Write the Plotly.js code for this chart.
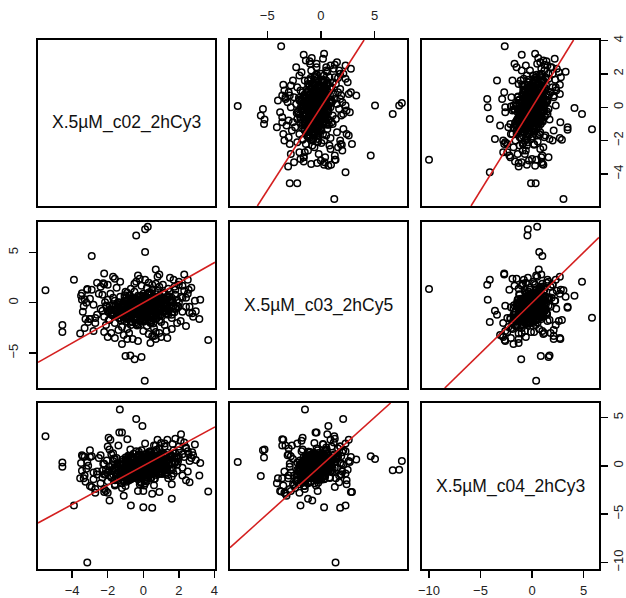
<!DOCTYPE html>
<html>
<head>
<meta charset="utf-8">
<script src="https://cdn.plot.ly/plotly-3.0.1.min.js"></script>
<style>html,body{margin:0;padding:0;background:#fff}#chart{width:626px;height:598px}</style>
</head>
<body>
<div id="chart"></div>
<script>
// variable names (diagonal labels)
const varNames = ['X.5µM_c02_2hCy3', 'X.5µM_c03_2hCy5', 'X.5µM_c04_2hCy3'];
// tick labels per variable
const tickVals = [[-4, -2, 0, 2, 4], [-5, 0, 5], [-10, -5, 0, 5]];

// dense core of the point cloud (estimated)
const coreV1 = [
 -0.2,0.3,-0.6,0.1,-0.4,0.5,-0.9,0.0,0.7,-0.3,
 -1.1,0.2,-0.5,0.9,-0.1,0.4,-0.8,1.1,-0.2,0.6,
 -1.3,0.0,-0.7,0.8,-0.4,0.3,-1.0,0.5,-0.6,1.2,
 -0.1,0.4,-1.5,0.2,-0.9,0.9,-0.3,0.6,-1.2,0.1,
 -0.5,1.0,-0.8,0.3,-1.4,0.7,-0.2,1.3,-0.6,0.0,
 -1.8,1.5,-2.0,0.8,-1.6,1.4,-0.4,0.5,-2.2,1.7,
 -1.0,0.2,-2.4,1.0,-0.7,1.8,-1.7,0.4,-2.6,1.2,
 -1.2,0.9,-2.1,1.6,-0.1,-0.9,2.0,-2.3,0.6,-1.5,
 2.2,-2.8,0.0,1.1,-1.9,0.3,-3.0,1.9,-0.5,2.4,
 -2.5,0.7,-1.3,1.4,-2.7,2.6,-0.8,0.1,-3.2,1.6,
 -1.6,2.3,-3.3,0.5,-2.0,2.8,-0.3,1.0,-3.5,2.0,
 -2.9,1.3,-1.1,2.5,-2.2,0.8,-3.4,2.9,-0.6,1.5,
 -0.3,0.2,-0.7,0.5,-0.1,0.8,-1.0,0.3,-0.5,0.0,
 -1.2,0.6,-0.2,1.0,-0.8,0.1,-0.4,0.7,-1.4,0.4,
 -0.6,1.2,-0.9,0.2,-0.1,0.9,-1.7,0.5,-0.3,1.4,
 -1.1,0.0,-0.6,0.8,-1.3,0.3,-0.2,1.1,-0.8,0.6,
 -1.9,1.6,-0.5,0.1,-1.5,1.3,-0.9,0.4,-2.0,1.8,
 -0.4,0.9,-1.6,1.5,-0.7,0.2,-2.3,1.9,-1.0,0.7,
 -0.2,0.4,-0.6,0.1,-0.9,0.6,-0.3,0.3,-1.1,0.9,
 -0.5,0.0,-0.8,0.7,-0.1,1.0,-1.3,0.2,-0.4,0.5,
 -2.4,2.1,-3.1,2.7,-1.8,1.7,-2.6,2.4,-1.4,0.9,
 -3.0,2.2,-2.1,1.2,-0.2,2.6,-1.7,0.3,-2.8,1.8,
 0.15,-0.35,0.65,-0.85,1.05,-1.25,0.35,-0.15,-0.55,0.85,
 -1.45,1.35,-0.05,0.45,-0.75,1.55,-1.65,0.25,-0.95,1.15,
 0.55,-0.25,-1.05,0.95,-0.65,0.05,1.45,-1.85,0.75,-0.45,
 -0.05,0.35,-1.35,1.25,-0.35,0.65,-0.85,1.75,-1.15,0.15,
 -0.65,0.45,-1.55,0.95,-0.15,1.35,-2.05,0.15,-0.95,0.65,
 0.05,-0.45,1.05,-1.15,0.55,-0.75,1.65,-0.25,0.35,-1.75,
 -0.25,0.85,-0.55,0.25,-1.25,1.15,-0.05,0.45,-0.85,1.95,
 -1.95,0.75,-0.35,1.45,-0.65,0.05,-1.45,1.05,-0.15,0.55,
 0.35,-0.95,0.95,-0.35,1.25,-1.35,0.15,-0.65,0.65,-0.05,
 -2.15,1.85,-0.75,0.25,-1.05,0.95,-0.45,1.35,-1.65,0.45,
 0.95,-0.15,-1.25,0.45,-0.55,1.65,-0.85,0.05,-1.45,0.75,
 -0.35,0.55,-0.95,1.05,-0.15,0.25,-1.75,1.55,-0.65,0.15,
 1.25,-0.45,0.35,-1.05,0.75,-0.25,1.95,-1.35,0.05,-0.75,
 -0.15,0.65,-0.75,0.35,-1.15,0.85,-0.45,1.25,-0.25,0.45,
 -0.95,1.45,-0.35,0.05,-1.55,0.55,-0.05,1.05,-0.75,0.25,
 0.65,-1.25,0.15,-0.55,1.35,-0.05,0.95,-1.05,0.45,-0.35
];
const coreV2 = [
 -0.4,-0.1,-0.8,-0.6,0.1,-0.3,-0.5,0.2,0.1,-1.0,
 -0.9,-0.7,-0.2,0.3,-1.3,0.5,-0.1,-0.2,0.6,-0.9,
 -0.6,-0.3,-1.2,-0.5,-0.7,0.8,0.2,-1.1,0.4,0.4,
 -0.1,-1.4,-1.1,0.0,-1.5,-0.8,0.3,0.2,-0.3,-1.7,
 -1.6,0.6,0.7,-0.2,-0.4,-1.3,-0.8,-0.6,-0.4,0.9,
 -1.0,0.2,0.3,1.2,-2.0,-1.2,-2.1,1.3,-1.4,-0.3,
 1.1,-2.3,-0.6,-1.9,1.4,0.8,0.5,-1.8,-1.2,1.0,
 -2.4,1.6,-2.2,-1.5,1.7,-2.6,0.0,0.8,-2.5,1.5,
 -0.9,-0.2,-2.8,1.8,-1.7,2.0,-1.6,-2.0,1.9,0.5,
 0.9,-2.9,2.1,1.4,-2.0,-0.4,-3.0,2.3,0.0,-2.6,
 2.4,1.2,-2.5,-3.3,1.8,-1.4,2.7,-3.4,0.7,2.1,
 1.3,-2.8,-3.2,0.9,-2.9,2.6,-0.9,0.2,-3.6,2.5,
 -0.5,-0.2,-0.3,-0.6,0.3,0.0,-0.8,-0.9,0.0,-1.1,
 -1.2,0.4,-0.6,-0.4,-0.9,0.5,-1.4,-0.7,0.0,0.1,
 -1.0,0.0,0.3,-1.5,-0.2,0.7,-0.7,-0.1,0.7,-0.8,
 -1.7,0.4,-1.9,-1.0,0.6,1.0,-1.8,0.9,-0.2,-1.6,
 -0.3,0.5,1.1,-1.2,-1.3,-1.1,1.0,-2.0,-0.9,-0.6,
 0.4,-1.7,0.2,1.1,-2.2,1.5,-0.8,0.3,-1.5,1.9,
 -0.9,-0.4,-0.6,0.1,-0.3,-0.2,-1.2,0.3,-0.5,-0.6,
 0.2,-0.7,-1.1,0.5,-0.4,0.2,-0.8,-1.0,-0.1,-1.2,
 1.6,-1.8,-1.9,1.5,-3.0,2.3,2.0,-2.3,-2.7,-3.0,
 0.4,1.7,-0.3,-2.2,2.4,-1.0,2.6,-3.1,-2.8,1.3,
 -0.35,0.05,-0.45,-0.65,0.15,-1.05,-1.25,-0.75,-0.15,0.35,
 -0.55,-0.25,-0.95,0.45,-1.45,0.05,-1.05,-1.65,0.55,-0.85,
 -1.35,0.25,-0.15,-0.05,-0.45,-1.85,0.65,-0.65,0.85,-0.75,
 -0.85,-1.15,0.05,0.25,-1.65,-0.55,0.35,-0.95,-1.35,0.65,
 0.45,-0.35,-0.85,-1.25,-0.25,-0.65,-0.35,-1.45,-1.85,0.15,
 -0.55,-1.55,0.35,-0.15,-2.05,0.75,0.05,-1.05,1.05,-1.15,
 -0.25,-0.95,-0.65,0.95,-0.95,0.45,-1.75,-0.15,-1.45,-0.45,
 -0.75,0.55,-1.15,-0.75,0.15,-0.45,-0.15,-1.35,0.25,-0.25,
 -1.75,-0.05,-0.35,-2.25,-0.85,-1.55,0.55,-1.25,-0.05,-0.65,
 0.05,-0.55,-1.35,-0.35,0.75,0.25,-0.85,0.65,-0.25,-1.95,
 -0.15,-1.15,-1.75,0.15,-0.05,-0.95,-1.05,0.45,-0.65,-1.55,
 -0.45,-0.85,0.15,-0.45,-1.55,0.85,-1.25,0.35,-0.95,-0.25,
 -1.05,-1.35,-0.75,-0.25,0.35,-2.15,-0.35,-0.95,-0.45,0.05,
 0.65,-0.05,-0.55,-1.05,-0.75,-1.25,-1.95,-0.15,-1.15,0.95,
 -1.45,-0.35,-0.25,-0.85,-0.25,-1.45,0.25,0.15,-0.55,-0.75,
 -0.45,-0.95,-1.65,0.35,-0.55,-0.35,-1.25,0.55,-0.15,-1.05
];
const coreV3 = [
 -0.3,0.2,-0.7,0.1,-0.5,0.4,-0.6,-0.1,0.6,-0.2,
 -1.0,-0.4,0.3,0.5,-0.8,0.1,-0.9,0.8,0.0,-0.1,
 -0.4,-0.6,-1.3,0.9,0.5,0.3,-0.2,-0.5,-1.1,0.2,
 0.7,-0.9,-0.8,1.0,-0.3,-0.3,-1.4,1.1,0.4,-1.2,
 -0.1,1.3,-0.5,-1.0,-1.5,0.3,1.2,0.0,0.8,0.5,
 -1.2,1.0,-0.7,0.7,-1.9,0.6,-0.6,-0.2,0.2,1.6,
 0.6,-1.6,-1.8,-0.8,0.9,0.4,1.3,1.5,-0.9,2.0,
 -2.3,1.8,-0.4,-1.1,-1.7,0.7,0.9,-1.2,-2.0,-0.2,
 1.2,-1.4,-2.6,0.3,1.7,1.4,-2.1,0.1,-0.9,1.9,
 0.8,0.2,0.1,-1.3,-2.8,0.5,-1.0,2.3,-0.3,-1.9,
 -1.5,2.4,-1.0,-2.9,2.0,1.1,0.4,-0.6,0.3,1.6,
 -2.2,1.0,-3.1,-0.6,-2.4,2.7,1.0,2.2,-1.3,-0.4,
 0.1,-0.2,-0.4,0.6,0.3,0.2,-0.1,-0.7,-0.8,0.4,
 -0.6,0.8,-1.0,0.3,0.2,-0.4,-1.1,-0.6,-0.3,0.9,
 0.6,1.2,-1.0,0.0,-1.2,0.0,-0.9,-0.8,0.6,0.7,
 -1.6,0.9,-0.5,1.4,-0.6,0.0,0.3,-0.1,1.0,-1.4,
 -0.1,0.2,-0.3,-1.8,0.8,-0.7,0.3,-0.3,-1.6,1.3,
 1.5,0.5,0.7,1.1,-1.4,0.7,-0.5,-0.5,-2.1,1.0,
 -0.5,0.0,-0.2,0.5,0.1,-0.3,0.8,-0.6,-0.7,1.0,
 0.0,-0.9,0.5,0.4,1.0,-0.2,-1.2,0.7,-0.7,0.1,
 1.1,2.6,0.0,0.8,1.2,-0.8,-0.6,-1.5,2.1,1.8,
 1.6,-1.0,-2.6,2.3,-1.9,-1.7,0.5,1.1,-0.7,2.8,
 0.25,-0.45,0.35,-0.15,0.75,-0.95,-0.55,0.05,-0.35,0.15,
 -0.75,0.55,-0.05,-0.35,-0.85,0.95,-0.25,-0.95,0.45,-0.45,
 0.85,1.15,-0.65,-0.75,0.65,-1.55,0.35,-1.05,-0.15,-1.25,
 -0.55,1.45,0.15,-0.15,0.45,-0.55,-1.35,0.25,0.65,1.25,
 -0.05,-0.65,-1.15,0.35,-1.75,1.35,0.55,-0.25,-0.45,0.75,
 -1.05,-0.15,0.15,-1.45,-0.45,0.35,-0.35,1.05,-0.65,0.05,
 0.55,-0.85,1.25,0.85,-0.35,-0.05,-0.85,-1.25,-1.55,0.45,
 -0.55,1.65,-0.15,0.05,0.95,-2.05,0.25,0.65,-0.95,-0.25,
 -0.75,-0.55,1.05,-1.15,-0.25,0.15,0.05,0.35,-0.45,-0.05,
 -0.85,0.85,-0.35,0.45,-0.15,1.05,-0.75,-0.45,0.75,0.55,
 -0.15,-1.05,0.05,1.15,-0.25,0.25,1.05,-0.35,-0.05,-0.95,
 -0.35,0.15,-0.55,-0.85,0.35,-1.25,-0.45,1.15,0.85,-0.75,
 1.05,-0.25,-0.95,-0.65,0.45,-0.85,0.75,0.25,-0.25,-1.45,
 0.65,-1.35,0.35,0.95,-0.95,-0.45,-0.15,-0.85,1.45,0.25,
 -1.65,0.25,-0.05,-0.55,-0.45,0.85,0.45,0.55,-0.25,-0.35,
 -0.65,-0.75,-0.35,0.15,-0.95,-0.75,0.35,-0.55,1.35,0.95
];

// scattered / outlying points
const outV1 = [-5.5,3.65,-4.55,-4.55,-3.9,-3.55,-2.9,0.1,0.08,0.25,0.1,-0.4,-3.15,-1.32,-0.4,-0.05,2.12,
 -2.2,-2.25,0.7,2.5,2.3,3.2,1.75,2.0,2.2,2.4,2.75,3.15,2.95,-3.45,-3.35,-3.45,-3.15,-3.25,-3.0,-2.7,
 -1.0,-0.73,-0.49,-0.1,-2.0,-1.6,0.4,1.35,0.6,
 -0.7,0.0,0.5,-1.9,1.6,
 -1.35,-1.95,-0.9,0.7,-1.2,-0.3,0.9,
 -3.3,-1.2,
 2.55,-2.2,1.65,1.0,-1.85];
const outV2 = [1.25,-3.7,-2.9,-2.2,2.3,-3.05,4.65,5.05,-7.75,7.55,7.3,6.7,1.37,-1.48,2.08,0.7,0.6,
 2.9,1.95,3.3,2.3,2.8,0.3,1.6,1.8,0.5,-0.4,-1.05,-1.6,-0.85,0.3,-0.35,0.95,1.3,-1.6,-1.6,-1.5,
 -5.3,-5.25,-5.6,-5.4,-3.4,-3.5,-4.0,-3.5,-3.3,
 -1.9,0.3,1.8,-0.8,-1.2,
 -0.5,-1.7,-3.6,-3.6,-4.1,-3.8,2.8,
 0.35,-0.4,
 1.3,1.85,0.2,-0.6,0.9];
const outV3 = [3.05,-2.65,-0.1,0.35,-4.1,-1.3,1.0,0.7,0.4,0.5,-0.4,-0.45,-10.0,5.82,4.85,4.12,3.26,
 -2.7,0.2,0.65,1.5,0.9,0.3,0.9,2.0,-0.2,1.8,1.4,-1.0,0.6,1.1,-1.3,-0.5,0.4,-1.65,0.9,-2.4,
 0.85,1.7,-1.05,1.6,-2.8,-2.05,-1.3,2.7,2.1,
 -4.1,-4.3,-4.35,-3.6,-3.4,
 3.45,2.9,2.75,2.1,-1.8,-2.6,-2.7,
 0.95,3.45,
 1.2,-0.9,2.25,2.35,2.7];

const V = [coreV1.concat(outV1), coreV2.concat(outV2), coreV3.concat(outV3)];

// ---- layout geometry (pixels) ----
const W = 626, H = 598;
const colPx = [[38, 215], [230, 407], [422, 599]];
const rowPx = [[40, 206], [222, 388], [403, 569]];
const axisRanges = [[-5.92, 4.03], [-8.47, 8.03], [-10.68, 6.5]];
// which panel axes carry ticks (R pairs() alternating style)
const tickSides = { x2: 'top', x7: 'bottom', x9: 'bottom', y4: 'left', y3: 'right', y9: 'right' };
const standoffs = { top: 6, bottom: 2, left: 6, right: 0 };

const FONT = 'Liberation Sans, Arial, Helvetica, sans-serif';
const traces = [];
const layout = {
  width: W, height: H,
  margin: { l: 0, r: 0, t: 0, b: 0 },
  paper_bgcolor: '#fff', plot_bgcolor: '#fff',
  showlegend: false,
  annotations: []
};

for (let r = 0; r < 3; r++) {
  for (let c = 0; c < 3; c++) {
    const k = r * 3 + c + 1;
    const sfx = k === 1 ? '' : String(k);
    const xa = 'x' + sfx, ya = 'y' + sfx;
    const base = {
      showline: true, mirror: true, linecolor: '#000', linewidth: 1.8,
      showgrid: false, zeroline: false, ticks: '', showticklabels: false,
      fixedrange: true
    };
    const xax = Object.assign({}, base, {
      domain: [colPx[c][0] / W, colPx[c][1] / W],
      range: axisRanges[c], anchor: ya
    });
    const yax = Object.assign({}, base, {
      domain: [1 - rowPx[r][1] / H, 1 - rowPx[r][0] / H],
      range: axisRanges[r], anchor: xa
    });
    const tickCommon = {
      ticks: 'outside', ticklen: 7, tickwidth: 1.4, tickcolor: '#000',
      showticklabels: true,
      tickfont: { family: FONT, size: 13, color: '#222' }
    };
    const xs = tickSides['x' + k], ys = tickSides['y' + k];
    if (xs) {
      Object.assign(xax, tickCommon, { side: xs, tickvals: tickVals[c], ticklabelstandoff: standoffs[xs] });
    }
    if (ys) {
      Object.assign(yax, tickCommon, { side: ys, tickvals: tickVals[r], tickangle: -90,
        ticklabelstandoff: standoffs[ys] });
    }
    layout['xaxis' + sfx] = xax;
    layout['yaxis' + sfx] = yax;

    if (r === c) {
      traces.push({ type: 'scatter', x: [], y: [], xaxis: xa, yaxis: ya, hoverinfo: 'skip' });
      layout.annotations.push({
        xref: xa + ' domain', yref: ya + ' domain', x: 0.5, y: 0.5,
        text: varNames[r], showarrow: false,
        font: { family: FONT, size: 17.5, color: '#111' }
      });
    } else {
      traces.push({
        type: 'scatter', mode: 'markers', x: V[c], y: V[r], xaxis: xa, yaxis: ya,
        marker: { symbol: 'circle-open', size: 6.5, color: '#000', line: { width: 1.5 } },
        hoverinfo: 'skip'
      });
      const lo = Math.max(axisRanges[c][0], axisRanges[r][0]);
      const hi = Math.min(axisRanges[c][1], axisRanges[r][1]);
      traces.push({
        type: 'scatter', mode: 'lines', x: [lo, hi], y: [lo, hi], xaxis: xa, yaxis: ya,
        line: { color: '#d41f1f', width: 1.6 }, hoverinfo: 'skip'
      });
    }
  }
}

Plotly.newPlot('chart', traces, layout, { staticPlot: true, displayModeBar: false });
</script>
</body>
</html>
